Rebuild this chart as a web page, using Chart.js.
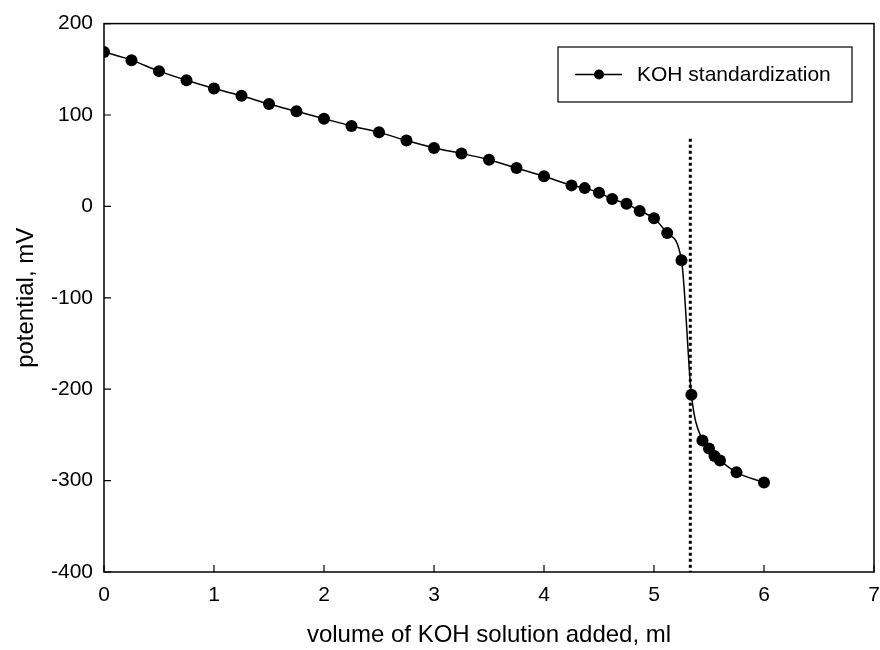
<!DOCTYPE html>
<html>
<head>
<meta charset="utf-8">
<script src="https://cdn.jsdelivr.net/npm/chart.js@4.4.1/dist/chart.umd.min.js"></script>
<style>
  html, body { margin: 0; padding: 0; background: #fff; }
  #wrap { width: 880px; height: 650px; }
</style>
</head>
<body>
<div id="wrap"><canvas id="titration"></canvas></div>
<script>
// Titration data: KOH added (ml) vs electrode potential (mV)
const volume = [0, 0.25, 0.5, 0.75, 1.0, 1.25, 1.5, 1.75, 2.0, 2.25, 2.5, 2.75, 3.0, 3.25, 3.5, 3.75, 4.0,
                4.25, 4.37, 4.5, 4.62, 4.75, 4.87, 5.0, 5.12, 5.25,
                5.34, 5.44, 5.5, 5.55, 5.6, 5.75, 6.0];
const potential = [169, 160, 148, 138, 129, 121, 112, 104, 96, 88, 81, 72, 64, 58, 51, 42, 33,
                   23, 20, 15, 8, 3, -5, -13, -29, -59,
                   -206, -256, -265, -273, -278, -291, -302];

// Equivalence point marker
const endpointX = [5.33, 5.33];
const endpointY = [74, -400];

const xTicks = [0, 1, 2, 3, 4, 5, 6, 7];
const yTicks = [-400, -300, -200, -100, 0, 100, 200];

const FONT = 'Liberation Sans, Arial, sans-serif';

// frame around the plot, inward tick marks, and the legend box
const framePlugin = {
  id: 'frame',
  afterDraw(chart) {
    const { ctx, chartArea: a, scales } = chart;
    ctx.save();
    ctx.strokeStyle = '#000';
    ctx.lineWidth = 1.5;
    ctx.strokeRect(a.left, a.top, a.right - a.left, a.bottom - a.top);

    ctx.lineWidth = 1.2;
    ctx.beginPath();
    xTicks.forEach(v => {
      const px = scales.x.getPixelForValue(v);
      ctx.moveTo(px, a.bottom);
      ctx.lineTo(px, a.bottom - 7);
    });
    yTicks.forEach(v => {
      const py = scales.y.getPixelForValue(v);
      ctx.moveTo(a.left, py);
      ctx.lineTo(a.left + 7, py);
    });
    ctx.stroke();

    // legend
    const ds = chart.data.datasets[0];
    const bx = 558, by = 47, bw = 294, bh = 55;
    ctx.fillStyle = '#fff';
    ctx.fillRect(bx, by, bw, bh);
    ctx.lineWidth = 1.2;
    ctx.strokeRect(bx, by, bw, bh);
    const ly = by + bh / 2;
    ctx.lineWidth = 1.5;
    ctx.beginPath();
    ctx.moveTo(575, ly);
    ctx.lineTo(622, ly);
    ctx.stroke();
    ctx.fillStyle = '#000';
    ctx.beginPath();
    ctx.arc(599, ly, 5, 0, Math.PI * 2);
    ctx.fill();
    ctx.font = '21px ' + FONT;
    ctx.textBaseline = 'middle';
    ctx.fillText(ds.label, 637, ly + 1);
    ctx.restore();
  }
};

new Chart(document.getElementById('titration'), {
  type: 'line',
  data: {
    datasets: [
      {
        label: 'KOH standardization',
        data: volume.map((v, i) => ({ x: v, y: potential[i] })),
        borderColor: '#000',
        backgroundColor: '#000',
        borderWidth: 1.5,
        pointRadius: 6,
        pointHoverRadius: 6,
        pointBorderWidth: 0,
        cubicInterpolationMode: 'monotone',
        fill: false
      },
      {
        label: 'endpoint',
        data: endpointX.map((v, i) => ({ x: v, y: endpointY[i] })),
        borderColor: '#000',
        borderWidth: 3,
        borderDash: [3, 3],
        pointRadius: 0,
        fill: false
      }
    ]
  },
  options: {
    responsive: true,
    maintainAspectRatio: false,
    animation: false,
    layout: { padding: { top: 23, right: 6, left: 0, bottom: 0 } },
    plugins: {
      legend: { display: false },
      tooltip: { enabled: false }
    },
    scales: {
      x: {
        type: 'linear',
        min: 0,
        max: 7,
        afterBuildTicks(scale) { scale.ticks = xTicks.map(v => ({ value: v })); },
        afterFit(scale) {
          scale.height = 78;
          scale.paddingLeft = 0;
          scale.paddingRight = 0;
        },
        grid: { display: false, drawTicks: false },
        border: { display: false },
        ticks: {
          color: '#000',
          padding: 11,
          font: { family: FONT, size: 21 }
        },
        title: {
          display: true,
          text: 'volume of KOH solution added, ml',
          color: '#000',
          padding: { top: 0, bottom: 0 },
          font: { family: FONT, size: 24 }
        }
      },
      y: {
        type: 'linear',
        min: -400,
        max: 200,
        afterBuildTicks(scale) { scale.ticks = yTicks.map(v => ({ value: v })); },
        afterFit(scale) { scale.width = 104; },
        grid: { display: false, drawTicks: false },
        border: { display: false },
        ticks: {
          color: '#000',
          padding: 11,
          font: { family: FONT, size: 21 }
        },
        title: {
          display: true,
          text: 'potential, mV',
          color: '#000',
          padding: { top: 12, bottom: 0 },
          font: { family: FONT, size: 24 }
        }
      }
    }
  },
  plugins: [framePlugin]
});
</script>
</body>
</html>
